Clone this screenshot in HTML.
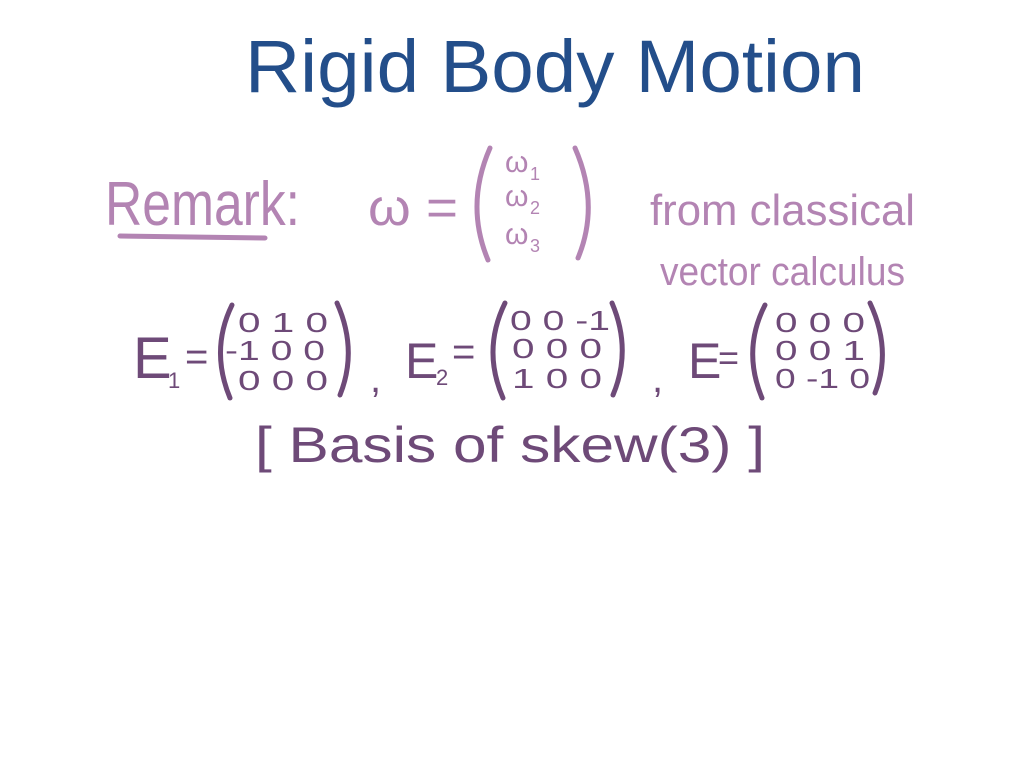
<!DOCTYPE html>
<html><head><meta charset="utf-8"><style>
html,body{margin:0;padding:0;background:#fff;width:1024px;height:768px;overflow:hidden}
svg{display:block}
text{font-family:"Liberation Sans",sans-serif}
</style></head><body>
<svg width="1024" height="768" viewBox="0 0 1024 768" xmlns="http://www.w3.org/2000/svg">
<text x="245" y="92" font-size="74" fill="#234e8a" textLength="620" lengthAdjust="spacingAndGlyphs">Rigid Body Motion</text>
<g fill="#b384b3">
<text x="105" y="225" font-size="62" textLength="195" lengthAdjust="spacingAndGlyphs">Remark:</text>
<text x="368" y="225" font-size="52" textLength="90" lengthAdjust="spacingAndGlyphs">ω =</text>
<text x="505" y="172" font-size="30">ω</text><text x="530" y="180" font-size="18">1</text>
<text x="505" y="206" font-size="30">ω</text><text x="530" y="214" font-size="18">2</text>
<text x="505" y="244" font-size="30">ω</text><text x="530" y="252" font-size="18">3</text>
<text x="650" y="225" font-size="44" textLength="265" lengthAdjust="spacingAndGlyphs">from classical</text>
<text x="660" y="285" font-size="40" textLength="245" lengthAdjust="spacingAndGlyphs">vector calculus</text>
</g>
<g fill="none" stroke="#b384b3" stroke-width="5" stroke-linecap="round">
<path d="M120 236 L265 238"/>
<path d="M490 148 Q465 205 488 260"/>
<path d="M575 148 Q600 205 578 258"/>
</g>
<g fill="#6e4a78">
<text x="133" y="378" font-size="58">E</text><text x="168" y="388" font-size="22">1</text><text x="185" y="370" font-size="40">=</text>
<text x="238" y="332" font-size="28" textLength="90" lengthAdjust="spacingAndGlyphs">0 1 0</text>
<text x="225" y="360" font-size="28" textLength="100" lengthAdjust="spacingAndGlyphs">-1 0 0</text>
<text x="238" y="390" font-size="28" textLength="90" lengthAdjust="spacingAndGlyphs">0 0 0</text>
<text x="370" y="392" font-size="40">,</text>
<text x="405" y="378" font-size="50">E</text><text x="436" y="385" font-size="22">2</text><text x="452" y="365" font-size="40">=</text>
<text x="510" y="330" font-size="28" textLength="100" lengthAdjust="spacingAndGlyphs">0 0 -1</text>
<text x="512" y="358" font-size="28" textLength="90" lengthAdjust="spacingAndGlyphs">0 0 0</text>
<text x="512" y="388" font-size="28" textLength="90" lengthAdjust="spacingAndGlyphs">1 0 0</text>
<text x="652" y="392" font-size="40">,</text>
<text x="688" y="378" font-size="50">E</text><text x="718" y="370" font-size="36">=</text>
<text x="775" y="332" font-size="28" textLength="90" lengthAdjust="spacingAndGlyphs">0 0 0</text>
<text x="775" y="360" font-size="28" textLength="90" lengthAdjust="spacingAndGlyphs">0 0 1</text>
<text x="775" y="388" font-size="28" textLength="95" lengthAdjust="spacingAndGlyphs">0 -1 0</text>
<text x="255" y="462" font-size="50" textLength="510" lengthAdjust="spacingAndGlyphs">[ Basis of skew(3) ]</text>
</g>
<g fill="none" stroke="#6e4a78" stroke-width="5" stroke-linecap="round">
<path d="M232 305 Q210 350 230 398"/><path d="M337 303 Q358 350 340 395"/>
<path d="M505 303 Q482 350 503 398"/><path d="M612 303 Q632 350 613 395"/>
<path d="M765 305 Q742 350 762 398"/><path d="M870 303 Q892 350 875 393"/>
</g>
</svg>
</body></html>
